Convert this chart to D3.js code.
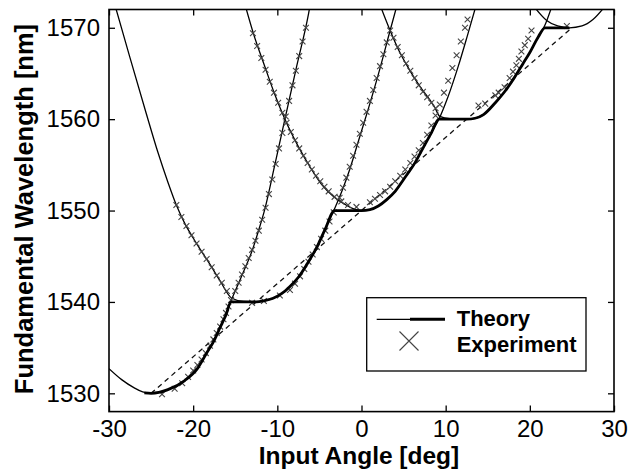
<!DOCTYPE html>
<html>
<head>
<meta charset="utf-8">
<script src="https://cdnjs.cloudflare.com/ajax/libs/d3/7.8.5/d3.min.js"></script>
<style>
  body { margin: 0; background: #fff; }
  svg { display: block; font-family: "Liberation Sans", Arial, sans-serif; }
</style>
</head>
<body>
<script>
// tuning curves: wavelength vs input angle

// theory branches, one per phase-matching order
var theory0 = [[-30,1532.7],[-28.5,1531.5],[-27,1530.6],[-26,1530.15],[-25,1530],[-23,1530.4],[-21,1531.4],
  [-19.5,1532.7],[-18.4,1534.4],[-17.5,1535.8],[-16.8,1537.2],[-16.1,1538.6],[-15.5,1540.1],[-14.3,1542.7],
  [-13,1545.6],[-12.2,1547.9],[-11.5,1550.1],[-10.3,1555],[-9.1,1560],[-7.7,1565.8],[-6.3,1571.5],[-6.1,1572.5]];
var theory1 = [[-29.3,1572.5],[-27.5,1566.7],[-25.6,1560.7],[-24.2,1556.4],[-23,1553.1],[-22,1550.6],[-21,1548.6],
  [-20,1547],[-19.2,1545.8],[-18,1544.1],[-16.8,1542.3],[-15.4,1540.4],[-14,1540.05],[-12.5,1540],[-11.5,1540.15],
  [-10.5,1540.4],[-9.5,1540.9],[-8.5,1541.7],[-7.5,1542.7],[-6.3,1544.4],[-5.3,1546],[-4.3,1548],[-3.2,1550.2],
  [-2.3,1552.2],[-1.4,1554.5],[-0.3,1557.8],[0.8,1561.1],[2,1564.9],[3.4,1569.7],[4.2,1572.4]];
var theory2 = [[-13.8,1572.4],[-12.85,1569.4],[-11.5,1565.8],[-10.3,1562.7],[-9.1,1560],[-7.5,1557],[-6,1554.6],
  [-4.7,1552.8],[-3.3,1551.5],[-2,1550.7],[-1,1550.2],[0,1550],[1,1550.1],[2,1550.5],[3,1551.2],[4,1552.1],
  [5,1553.4],[6.4,1555.3],[7.4,1557],[8.3,1558.5],[9.2,1560],[10.3,1562.5],[11.5,1565.8],[12.6,1569.2],[13.6,1572.4]];
var theory3 = [[2.2,1572.5],[3.4,1569.7],[4.5,1567.4],[5.7,1565.4],[7,1563.5],[8.2,1562],[8.7,1561.3],[9.3,1560.3],
  [10.5,1560.05],[12.5,1560],[13.5,1560.1],[14.5,1560.5],[15.9,1561.8],[17,1563],[18.2,1564.6],[19.2,1566.1],
  [20,1567.3],[21,1569],[21.8,1570.3],[22.6,1572.3]];
var theory4 = [[20.6,1572.2],[22,1570.8],[23.3,1570.2],[24.7,1570],[26.2,1570.2],[27.5,1570.9],[28.8,1572.2]];

// the bold envelope
var envelope = [[-25.8,1530.05],[-25,1530],[-23,1530.4],[-21,1531.4],[-19.5,1532.7],[-18.4,1534.4],[-17.5,1535.8],
  [-16.8,1537.2],[-16.1,1538.6],[-15.5,1540],[-12.5,1540],[-11.5,1540.15],[-10.5,1540.4],[-9.5,1540.9],
  [-8.5,1541.7],[-7.5,1542.7],[-6.3,1544.4],[-5.3,1546],[-4.3,1548],[-3.2,1550],[0,1550],[1,1550.1],[2,1550.5],
  [3,1551.2],[4,1552.1],[5,1553.4],[6.4,1555.3],[7.4,1557],[8.3,1558.5],[9.2,1560],[12.5,1560],[13.5,1560.1],
  [14.5,1560.5],[15.9,1561.8],[17,1563],[18.2,1564.6],[19.2,1566.1],[20,1567.3],[21,1569],[21.8,1570],[24.7,1570]];

// dashed line through the vertices
var vertexLine = [[-25,1530],[25,1570]];

// measured points
var experiment = [
  [-23.7,1529.9],[-22.2,1530.5],[-21.3,1531.1],[-20.6,1531.8],[-20.0,1532.5],[-19.5,1533.1],[-19.0,1533.7],
  [-18.5,1534.4],[-18.0,1535.2],[-17.6,1535.9],[-17.2,1536.6],[-16.8,1537.3],[-16.4,1538.1],[-16.1,1538.8],
  [-15.8,1539.5],[-15.5,1540.2],
  [-15.0,1541.2],[-14.6,1542.1],[-14.2,1543.0],[-13.8,1543.9],[-13.4,1544.8],[-13.0,1545.7],[-12.6,1546.7],
  [-12.2,1547.8],[-11.8,1549.0],[-11.4,1550.3],[-11.0,1551.8],[-10.6,1553.4],[-10.2,1555.1],[-9.8,1556.8],
  [-9.4,1558.5],[-9.0,1560.3],[-8.6,1562.0],[-8.2,1563.7],[-7.8,1565.3],[-7.4,1566.9],[-7.0,1568.5],[-6.6,1570.0],
  [-22.0,1550.6],[-21.4,1549.3],[-20.8,1548.3],[-20.2,1547.3],[-19.6,1546.4],[-19.0,1545.5],[-18.4,1544.7],
  [-17.8,1543.8],[-17.2,1542.9],[-16.6,1542.1],[-16.0,1541.2],
  [-13.0,1539.9],[-11.6,1540.1],[-9.7,1540.7],[-8.5,1541.3],[-7.9,1542.0],[-7.3,1542.8],[-6.8,1543.6],
  [-6.3,1544.4],[-5.8,1545.2],[-5.3,1546.0],[-4.8,1546.9],[-4.3,1547.8],[-3.8,1548.8],[-3.3,1549.8],
  [-2.6,1551.4],[-2.2,1552.5],[-1.8,1553.6],[-1.4,1554.8],[-1.0,1556.0],[-0.6,1557.2],[-0.2,1558.4],[0.2,1559.6],
  [0.6,1560.8],[1.0,1562.0],[1.4,1563.2],[1.8,1564.5],[2.2,1565.8],[2.6,1567.1],[3.0,1568.4],[3.4,1569.7],
  [-12.9,1569.4],[-12.4,1568.0],[-11.9,1566.7],[-11.4,1565.4],[-10.9,1564.1],[-10.4,1562.9],[-9.9,1561.8],
  [-9.4,1560.7],[-8.9,1559.6],[-8.4,1558.6],[-7.9,1557.7],[-7.4,1556.8],[-6.9,1556.0],[-6.4,1555.2],[-5.9,1554.5],
  [-5.4,1553.8],[-4.9,1553.2],[-4.4,1552.6],[-3.9,1552.1],[-3.2,1551.5],[-2.4,1551.0],[-1.6,1550.6],[-0.6,1550.4],
  [1.0,1550.9],[1.6,1551.3],[2.2,1551.7],[2.8,1552.1],[3.4,1552.6],[4.0,1553.2],[4.6,1553.8],[5.2,1554.5],
  [5.8,1555.2],[6.3,1555.9],[6.8,1556.6],[7.3,1557.4],[7.8,1558.3],[8.3,1559.3],[8.8,1560.4],[9.3,1561.6],
  [9.8,1562.9],[10.3,1564.2],[10.8,1565.6],[11.3,1567.0],[11.8,1568.5],[12.3,1570.0],[12.6,1570.9],
  [3.8,1568.9],[4.3,1567.9],[4.8,1567.0],[5.3,1566.1],[5.8,1565.3],[6.3,1564.5],[6.8,1563.7],[7.3,1563.0],
  [7.8,1562.4],[8.3,1561.8],[8.8,1561.2],
  [13.9,1561.5],[14.7,1561.7],[15.9,1562.6],[16.3,1562.9],[17.0,1563.5],[17.6,1564.5],[18.0,1565.2],
  [18.4,1565.9],[18.7,1566.6],[19.0,1567.4],[19.4,1568.1],[19.8,1568.8],[20.2,1569.7],[24.4,1570.2]
];

var xTicks = [-30, -20, -10, 0, 10, 20, 30];
var yTicks = [1530, 1540, 1550, 1560, 1570];

var W = 628, H = 472;
// plot box in pixels (note: "top" is a reserved global in browsers)
var boxL = 109, boxR = 614, boxT = 9.5, boxB = 411.6;

var x = d3.scaleLinear().domain([-30, 30]).range([boxL, boxR]);
var y = d3.scaleLinear().domain([1528, 1572]).range([boxB, boxT]);

var svg = d3.select("body").append("svg")
    .attr("width", W)
    .attr("height", H);

svg.append("clipPath").attr("id", "plotclip")
  .append("rect")
    .attr("x", boxL).attr("y", boxT)
    .attr("width", boxR - boxL).attr("height", boxB - boxT);

var line = d3.line()
    .x(function(d) { return x(d[0]); })
    .y(function(d) { return y(d[1]); })
    .curve(d3.curveMonotoneX);

var plot = svg.append("g").attr("clip-path", "url(#plotclip)");

// dashed vertex line
plot.append("path")
    .datum(vertexLine)
    .attr("d", d3.line().x(function(d) { return x(d[0]); }).y(function(d) { return y(d[1]); }))
    .attr("fill", "none")
    .attr("stroke", "#111")
    .attr("stroke-width", 1.3)
    .attr("stroke-dasharray", "5,4");

// thin theory branches
[theory0, theory1, theory2, theory3, theory4].forEach(function(c) {
  plot.append("path")
      .datum(c)
      .attr("d", line)
      .attr("fill", "none")
      .attr("stroke", "#000")
      .attr("stroke-width", 1.3);
});

// experiment crosses
var s = 2.9;
plot.selectAll(".exp")
    .data(experiment)
  .enter().append("path")
    .attr("class", "exp")
    .attr("transform", function(d) { return "translate(" + x(d[0]) + "," + y(d[1]) + ")"; })
    .attr("d", "M" + (-s) + "," + (-s) + "L" + s + "," + s + "M" + (-s) + "," + s + "L" + s + "," + (-s))
    .attr("fill", "none")
    .attr("stroke", "#444")
    .attr("stroke-width", 1.1);

// bold envelope on top
plot.append("path")
    .datum(envelope)
    .attr("d", line)
    .attr("fill", "none")
    .attr("stroke", "#000")
    .attr("stroke-width", 2.8)
    .attr("stroke-linejoin", "round");

// axes, ticks pointing inward on all four sides
var plain = function(d) { return String(d); };
var xAxis = svg.append("g")
    .attr("transform", "translate(0," + boxB + ")")
    .call(d3.axisBottom(x).tickValues(xTicks).tickFormat(plain).tickSize(-6).tickSizeOuter(0));
var yAxis = svg.append("g")
    .attr("transform", "translate(" + boxL + ",0)")
    .call(d3.axisLeft(y).tickValues(yTicks).tickFormat(plain).tickSize(-6).tickSizeOuter(0).tickPadding(9));
svg.append("g")
    .attr("transform", "translate(0," + boxT + ")")
    .call(d3.axisTop(x).tickValues(xTicks).tickSize(-6).tickSizeOuter(0).tickFormat(""));
svg.append("g")
    .attr("transform", "translate(" + boxR + ",0)")
    .call(d3.axisRight(y).tickValues(yTicks).tickSize(-6).tickSizeOuter(0).tickFormat(""));

svg.selectAll(".domain").remove();
svg.selectAll(".tick line").attr("stroke", "#000").attr("stroke-width", 1.3);
svg.selectAll(".tick text").attr("fill", "#000").style("font-size", "24px");
xAxis.selectAll(".tick text").attr("y", 8).attr("dy", "0.71em");

svg.append("rect")
    .attr("x", boxL).attr("y", boxT)
    .attr("width", boxR - boxL).attr("height", boxB - boxT)
    .attr("fill", "none")
    .attr("stroke", "#000")
    .attr("stroke-width", 1.6);

// axis titles
svg.append("text")
    .attr("x", 359)
    .attr("y", 464)
    .attr("text-anchor", "middle")
    .style("font-size", "24.5px")
    .style("font-weight", "bold")
    .text("Input Angle [deg]");

svg.append("text")
    .attr("transform", "translate(33,209) rotate(-90)")
    .attr("text-anchor", "middle")
    .style("font-size", "25.5px")
    .style("font-weight", "bold")
    .text("Fundamental Wavelength [nm]");

// legend
var lg = svg.append("g");
lg.append("rect")
    .attr("x", 366.7).attr("y", 297.7)
    .attr("width", 219.3).attr("height", 73.3)
    .attr("fill", "#fff")
    .attr("stroke", "#000")
    .attr("stroke-width", 1.3);
lg.append("line")
    .attr("x1", 376.7).attr("x2", 411).attr("y1", 319.3).attr("y2", 319.3)
    .attr("stroke", "#000").attr("stroke-width", 1.3);
lg.append("line")
    .attr("x1", 410).attr("x2", 445).attr("y1", 319.3).attr("y2", 319.3)
    .attr("stroke", "#000").attr("stroke-width", 3);
lg.append("path")
    .attr("d", "M399.5,331.5L418.5,350.5M399.5,350.5L418.5,331.5")
    .attr("stroke", "#444").attr("stroke-width", 1.1);
lg.append("text")
    .attr("x", 456.7).attr("y", 325.5)
    .style("font-size", "22px").style("font-weight", "bold")
    .text("Theory");
lg.append("text")
    .attr("x", 456.7).attr("y", 351.5)
    .style("font-size", "22px").style("font-weight", "bold")
    .text("Experiment");
</script>
</body>
</html>
